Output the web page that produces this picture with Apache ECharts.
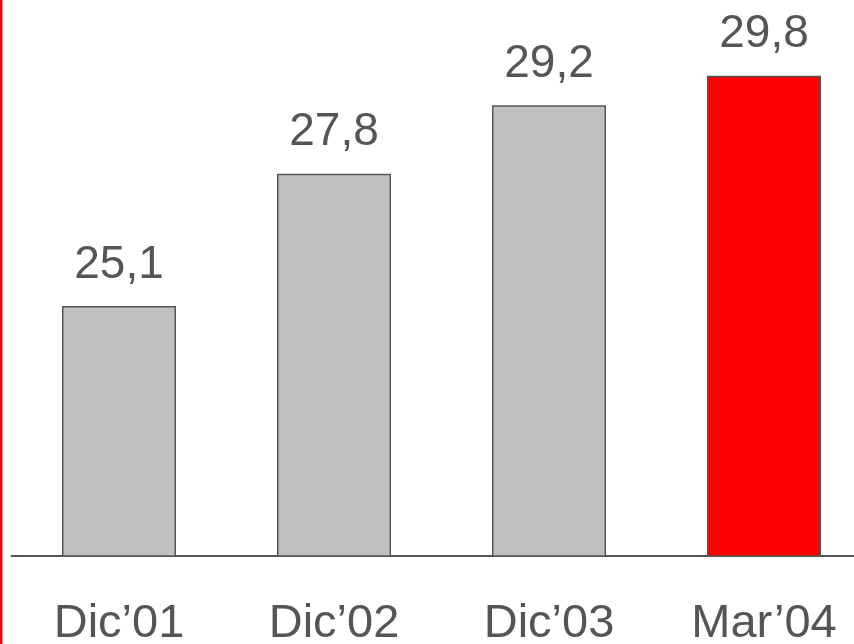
<!DOCTYPE html>
<html>
<head>
<meta charset="utf-8">
<script src="https://cdn.jsdelivr.net/npm/echarts@6/dist/echarts.min.js"></script>
<style>
html,body{margin:0;padding:0;background:#fff;}
#c{width:854px;height:644px;}
</style>
</head>
<body>
<div id="c"></div>
<script>
const categories = ["Dic\u201901", "Dic\u201902", "Dic\u201903", "Mar\u201904"];
const values = [25.1, 27.8, 29.2, 29.8];
const barColors = ["#c0c0c0", "#c0c0c0", "#c0c0c0", "#ff0000"];

const chart = echarts.init(document.getElementById('c'), null, {renderer: 'canvas'});
chart.setOption({
  animation: false,
  backgroundColor: '#ffffff',
  grid: {left: 11.5, width: 860, top: 66, bottom: 88, containLabel: false, outerBoundsMode: 'none'},
  xAxis: {
    type: 'category',
    data: categories,
    axisLine: {show: true, lineStyle: {color: '#555555', width: 2}},
    axisTick: {show: false},
    axisLabel: {color: '#555555', fontSize: 47, fontFamily: 'Liberation Sans, Arial, sans-serif', margin: 45}
  },
  yAxis: {
    type: 'value', min: 20, max: 30, show: false, splitLine: {show: false}
  },
  series: [{
    type: 'bar',
    data: values.map((v, i) => ({value: v, itemStyle: {color: barColors[i]}})),
    barWidth: 114,
    itemStyle: {borderColor: '#555555', borderWidth: 1.5},
    label: {
      show: true, position: 'top', distance: 18,
      color: '#555555', fontSize: 46, fontFamily: 'Liberation Sans, Arial, sans-serif',
      formatter: p => String(p.value).replace('.', ',')
    }
  }],
  graphic: [{
    type: 'rect', left: 0, top: 0, shape: {x: 0, y: 0, width: 2.5, height: 644},
    style: {fill: '#ff0000'}, z: 100
  }]
});
</script>
</body>
</html>
